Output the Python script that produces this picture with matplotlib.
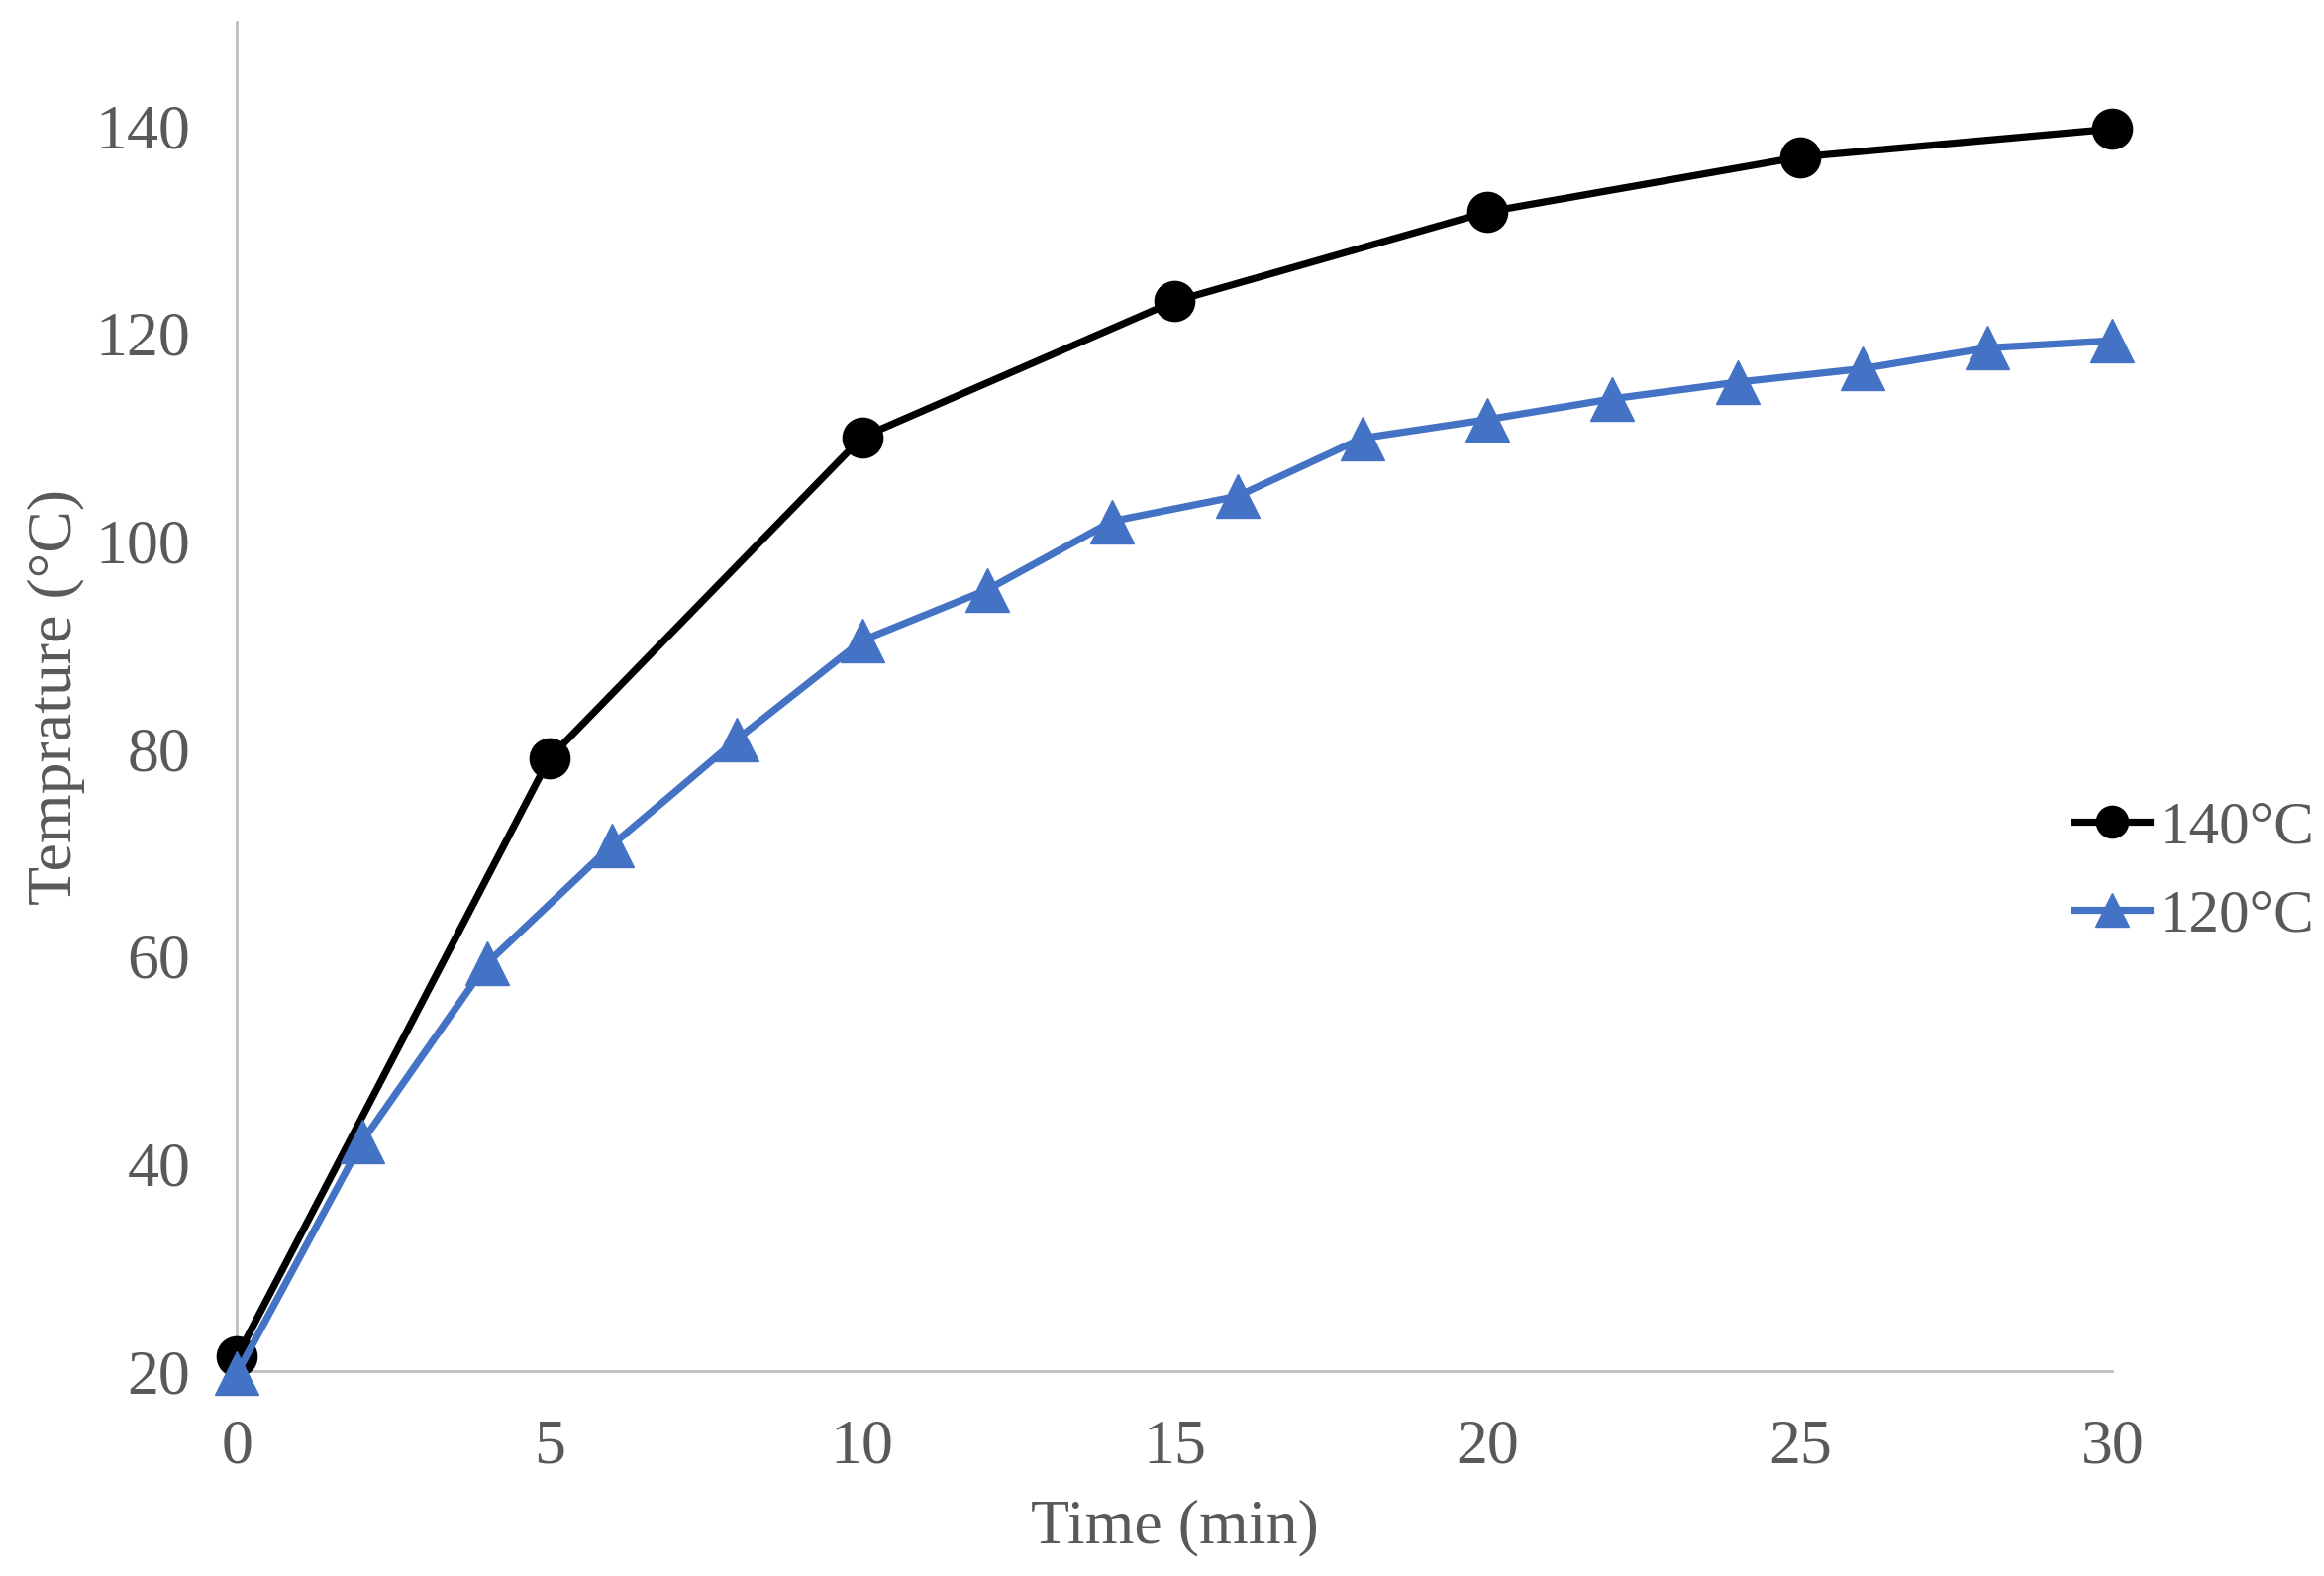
import matplotlib
matplotlib.use('Agg')
import matplotlib.pyplot as plt

# data
t_140 = [0, 5, 10, 15, 20, 25, 30]
temp_140 = [21.4, 79.1, 110.0, 123.1, 131.7, 137.0, 139.7]

t_120 = [0, 2, 4, 6, 8, 10, 12, 14, 16, 18, 20, 22, 24, 26, 28, 30]
temp_120 = [19.8, 42.1, 59.3, 70.7, 80.9, 90.4, 95.3, 101.9, 104.3, 109.9,
            111.7, 113.7, 115.3, 116.6, 118.6, 119.3]

xticks = [0, 5, 10, 15, 20, 25, 30]
yticks = [20, 40, 60, 80, 100, 120, 140]

plt.rcParams['font.family'] = ['Liberation Serif', 'DejaVu Serif']
grey = '#595959'
blue = '#4472C4'
fs = 46

fig = plt.figure(figsize=(23.47, 15.92), dpi=100)
ax = fig.add_axes([0.102, 0.130, 0.807, 0.856])

ax.plot(t_140, temp_140, color='black', lw=5.2, marker='o', ms=29,
        label='140°C', clip_on=False, zorder=3)
ax.plot(t_120, temp_120, color=blue, lw=5.2, marker='^', ms=31,
        label='120°C', clip_on=False, zorder=4)

ax.set_xlim(0, 30)
ax.set_ylim(20, 150)
ax.set_xticks(xticks)
ax.set_yticks(yticks)
ax.tick_params(length=0, labelsize=fs, labelcolor=grey)
ax.tick_params(axis='x', pad=35)
ax.tick_params(axis='y', pad=34)

for s in ['top', 'right']:
    ax.spines[s].set_visible(False)
for s in ['left', 'bottom']:
    ax.spines[s].set_color('#bfbfbf')
    ax.spines[s].set_linewidth(2)

ax.set_xlabel('Time (min)', fontsize=fs, color=grey)
ax.set_ylabel('Temprature (°C)', fontsize=fs, color=grey)
ax.xaxis.set_label_coords(0.5, -0.095)
ax.yaxis.set_label_coords(-0.081, 0.5)

leg = ax.legend(loc='center left', bbox_to_anchor=(0.8926, 0.4466),
                bbox_transform=fig.transFigure, frameon=False, fontsize=44,
                handlelength=1.25, handletextpad=0.15, labelspacing=0.55,
                borderpad=0, borderaxespad=0, markerscale=0.8)
for txt in leg.get_texts():
    txt.set_color(grey)

fig.savefig('out.png', dpi=100)
